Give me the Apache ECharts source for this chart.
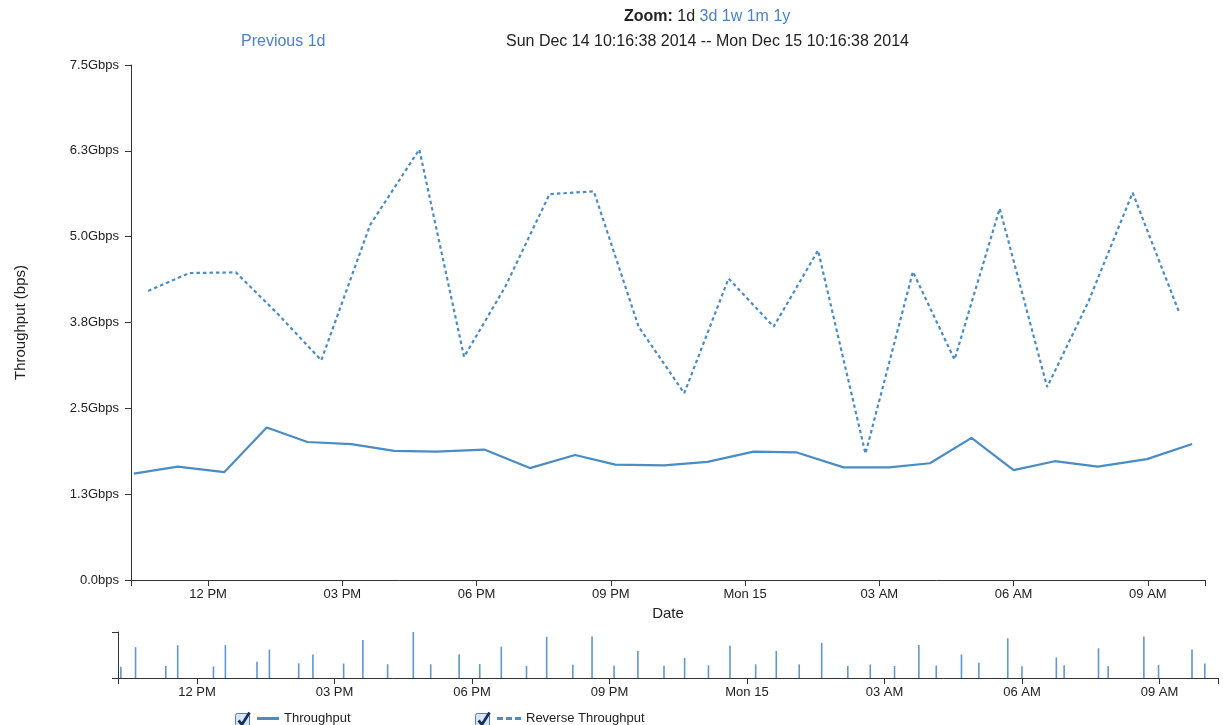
<!DOCTYPE html>
<html>
<head>
<meta charset="utf-8">
<title>Throughput</title>
<script src="https://cdn.jsdelivr.net/npm/echarts@6/dist/echarts.min.js"></script>
<style>
    html, body {
        margin: 0;
        padding: 0;
        background: #fff;
    }
    #chart {
        width: 1223px;
        height: 725px;
    }
</style>
</head>
<body>
<div id="chart"></div>
<script>
// hours since Sun Dec 14 2014 00:00, values in Gbps
const startHour = 10 + 16 / 60 + 38 / 3600;
const endHour = startHour + 24;

const throughputHours = [
    10.34, 11.32, 12.36, 13.31, 14.22, 15.20, 16.16, 17.10, 18.17, 19.19, 20.20, 21.10, 22.19,
    23.16, 24.19, 25.14, 26.20, 27.22, 28.13, 29.06, 30.00, 30.92, 31.88, 32.98, 33.99
];
const throughputValues = [
    1.55, 1.65, 1.57, 2.22, 2.01, 1.98, 1.88, 1.87, 1.90, 1.63, 1.82, 1.68, 1.67,
    1.72, 1.87, 1.86, 1.64, 1.64, 1.70, 2.07, 1.60, 1.73, 1.65, 1.76, 1.98
];

const reverseHours = [
    10.66, 11.58, 12.62, 13.58, 14.53, 15.62, 16.72, 17.72, 18.64, 19.63, 20.62, 21.62,
    22.64, 23.63, 24.64, 25.63, 26.69, 27.75, 28.68, 29.69, 30.75, 31.67, 32.66, 33.71
];
const reverseValues = [
    4.21, 4.47, 4.48, 3.86, 3.20, 5.17, 6.27, 3.25, 4.27, 5.62, 5.66, 3.69,
    2.72, 4.39, 3.69, 4.80, 1.84, 4.49, 3.21, 5.41, 2.81, 4.05, 5.64, 3.88
];

const xTickHours = [12, 15, 18, 21, 24, 27, 30, 33];
const xTickLabels = ['12 PM', '03 PM', '06 PM', '09 PM', 'Mon 15', '03 AM', '06 AM', '09 AM'];
const yTickLabels = ['0.0bps', '1.3Gbps', '2.5Gbps', '3.8Gbps', '5.0Gbps', '6.3Gbps', '7.5Gbps'];

const LINE = '#4a8cc4';
const LINK = '#4c80c8';
const INK = '#222';
const AXIS = '#333';
const FONT = '"Liberation Sans", Arial, sans-serif';

const zip = (xs, ys) => xs.map((x, i) => [x, ys[i]]);
const peak = Math.max(...throughputValues, ...reverseValues);

const hourLabel = v => {
    const i = xTickHours.indexOf(Math.round(v));
    return i === -1 ? '' : xTickLabels[i];
};

const timeAxis = (gridIndex, margin) => ({
    type: 'value',
    gridIndex,
    min: startHour,
    max: endHour,
    splitLine: {show: false},
    axisLine: {show: true, onZero: false, lineStyle: {color: AXIS, width: 1}},
    axisTick: {
        show: true,
        length: 6,
        lineStyle: {color: AXIS},
        customValues: [startHour].concat(xTickHours, [endHour])
    },
    axisLabel: {
        show: true,
        margin,
        color: INK,
        fontSize: 13,
        fontFamily: FONT,
        customValues: xTickHours,
        formatter: hourLabel
    }
});

const checkbox = x => ({
    type: 'group',
    left: x,
    top: 710,
    children: [
        {
            type: 'rect',
            shape: {x: 0, y: 1, width: 14, height: 14, r: 2},
            style: {fill: '#d4e6f8', stroke: '#5a7ea8', lineWidth: 1}
        },
        {
            type: 'polyline',
            shape: {points: [[3, 8], [6.5, 12], [14, 0]]},
            style: {stroke: '#1b2f55', lineWidth: 2.8, fill: null}
        }
    ]
});

const chart = echarts.init(document.getElementById('chart'), null, {renderer: 'canvas'});

chart.setOption({
    animation: false,
    textStyle: {fontFamily: FONT},
    title: [
        {
            text: '{b|Zoom:} 1d {l|3d 1w 1m 1y}',
            left: 624,
            top: 9,
            padding: 0,
            textStyle: {
                fontSize: 16,
                fontWeight: 'normal',
                color: INK,
                rich: {
                    b: {fontSize: 16, fontWeight: 'bold', color: INK},
                    l: {fontSize: 16, color: LINK}
                }
            }
        },
        {
            text: 'Previous 1d',
            left: 241,
            top: 34,
            padding: 0,
            textStyle: {fontSize: 16, fontWeight: 'normal', color: LINK}
        },
        {
            text: 'Sun Dec 14 10:16:38 2014 -- Mon Dec 15 10:16:38 2014',
            left: 506,
            top: 34,
            padding: 0,
            textStyle: {fontSize: 16, fontWeight: 'normal', color: INK}
        }
    ],
    legend: [
        {
            left: 257,
            top: 712,
            padding: 0,
            itemWidth: 22,
            itemHeight: 3,
            icon: 'path://M0,0H22V3H0Z',
            data: ['Throughput'],
            selectedMode: false,
            textStyle: {fontSize: 13, color: INK}
        },
        {
            left: 497,
            top: 712,
            padding: 0,
            itemWidth: 24,
            itemHeight: 3,
            icon: 'path://M0,0H6V3H0Z M9,0H15V3H9Z M18,0H24V3H18Z',
            data: ['Reverse Throughput'],
            selectedMode: false,
            textStyle: {fontSize: 13, color: INK}
        }
    ],
    graphic: [checkbox(235), checkbox(475)],
    grid: [
        {left: 131, right: 18, top: 65, height: 515},
        {left: 118, right: 5, top: 632, height: 46}
    ],
    xAxis: [
        Object.assign(timeAxis(0, 8), {
            name: 'Date',
            nameLocation: 'middle',
            nameGap: 25,
            nameTextStyle: {fontSize: 15, color: INK}
        }),
        timeAxis(1, 8)
    ],
    yAxis: [
        {
            type: 'value',
            gridIndex: 0,
            min: 0,
            max: 7.5,
            interval: 1.25,
            name: 'Throughput (bps)',
            nameLocation: 'middle',
            nameGap: 103,
            nameTextStyle: {fontSize: 15, color: INK},
            splitLine: {show: false},
            axisLine: {show: true, lineStyle: {color: AXIS, width: 1}},
            axisTick: {show: true, length: 6, lineStyle: {color: AXIS}},
            axisLabel: {
                margin: 12,
                fontSize: 13,
                color: INK,
                formatter: v => yTickLabels[Math.round(v / 1.25)]
            }
        },
        {
            type: 'value',
            gridIndex: 1,
            min: 0,
            max: peak,
            splitLine: {show: false},
            axisLine: {show: true, lineStyle: {color: AXIS, width: 1}},
            axisTick: {show: true, length: 6, lineStyle: {color: AXIS}, customValues: [0, peak]},
            axisLabel: {show: false}
        }
    ],
    series: [
        {
            name: 'Throughput',
            type: 'line',
            xAxisIndex: 0,
            yAxisIndex: 0,
            symbol: 'none',
            data: zip(throughputHours, throughputValues),
            itemStyle: {color: LINE},
            lineStyle: {color: LINE, width: 2.2}
        },
        {
            name: 'Reverse Throughput',
            type: 'line',
            xAxisIndex: 0,
            yAxisIndex: 0,
            symbol: 'none',
            data: zip(reverseHours, reverseValues),
            itemStyle: {color: LINE},
            lineStyle: {color: LINE, width: 2.2, type: [3.5, 3]}
        },
        {
            name: 'throughput-overview',
            type: 'bar',
            xAxisIndex: 1,
            yAxisIndex: 1,
            barWidth: 1.6,
            barGap: '-100%',
            data: zip(throughputHours, throughputValues),
            itemStyle: {color: '#5f97cf'}
        },
        {
            name: 'reverse-overview',
            type: 'bar',
            xAxisIndex: 1,
            yAxisIndex: 1,
            barWidth: 1.6,
            barGap: '-100%',
            data: zip(reverseHours, reverseValues),
            itemStyle: {color: '#5f97cf'}
        }
    ]
});
</script>
</body>
</html>
